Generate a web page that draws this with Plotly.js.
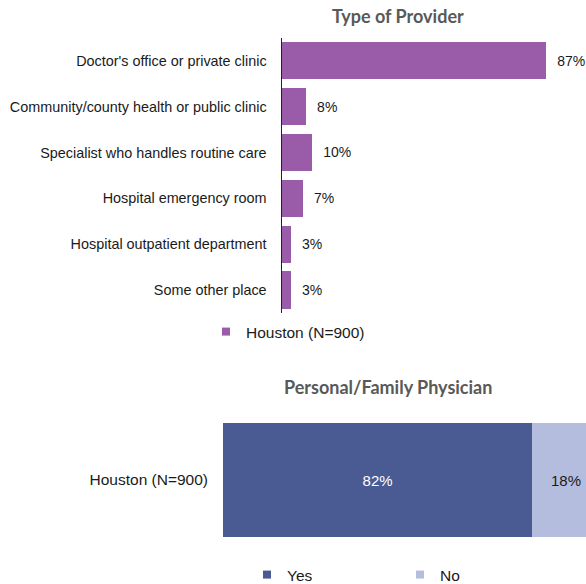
<!DOCTYPE html>
<html>
<head>
<meta charset="utf-8">
<script src="https://cdn.plot.ly/plotly-3.0.1.min.js"></script>
<style>html,body{margin:0;padding:0;background:#fff;}#chart{width:586px;height:584px;}</style>
</head>
<body>
<div id="chart"></div>
<script>
// Top chart: Type of Provider
var providerCategories = [
  "Doctor's office or private clinic",
  "Community/county health or public clinic",
  "Specialist who handles routine care",
  "Hospital emergency room",
  "Hospital outpatient department",
  "Some other place"
];
var providerValues = [87, 8, 10, 7, 3, 3];
var providerSeriesName = "Houston (N=900)";

// Bottom chart: Personal/Family Physician
var physicianCategories = ["Houston (N=900)"];
var physicianYes = [82];
var physicianNo = [18];

var colProvider = '#9A5BA8', colYes = '#4A5A92', colNo = '#B4BDDE';
var W = 586, H = 584;
function px(x) { return x / W; }
function py(y) { return 1 - y / H; }
var FONT = 'Liberation Sans, Arial, sans-serif';

var traces = [
  {
    type: 'bar', orientation: 'h',
    x: providerValues, y: providerCategories,
    name: providerSeriesName, showlegend: false,
    marker: { color: colProvider },
    texttemplate: '\u00a0\u00a0%{x}%',
    textposition: 'outside',
    cliponaxis: false,
    textfont: { family: FONT, size: 14, color: '#1a1a1a' },
    xaxis: 'x', yaxis: 'y',
    hoverinfo: 'skip'
  },
  {
    type: 'bar', orientation: 'h',
    x: physicianYes, y: physicianCategories,
    name: 'Yes', width: 1, showlegend: false,
    marker: { color: colYes },
    texttemplate: '%{x}%',
    textposition: 'inside', insidetextanchor: 'middle',
    textfont: { family: FONT, size: 15, color: '#ffffff' },
    xaxis: 'x2', yaxis: 'y2',
    hoverinfo: 'skip'
  },
  {
    type: 'bar', orientation: 'h',
    x: physicianNo, y: physicianCategories,
    name: 'No', width: 1, showlegend: false,
    marker: { color: colNo },
    texttemplate: '%{x}%',
    textposition: 'inside', insidetextanchor: 'middle',
    textfont: { family: FONT, size: 15, color: '#1a1a1a' },
    xaxis: 'x2', yaxis: 'y2',
    hoverinfo: 'skip'
  },
  // legend keys (small square swatches, no data points drawn)
  {
    type: 'scatter', mode: 'markers', x: [null], y: [null],
    name: providerSeriesName, legend: 'legend',
    marker: { symbol: 'square', size: 8, color: colProvider },
    xaxis: 'x', yaxis: 'y', hoverinfo: 'skip'
  },
  {
    type: 'scatter', mode: 'markers', x: [null], y: [null],
    name: 'Yes', legend: 'legend2',
    marker: { symbol: 'square', size: 8, color: colYes },
    xaxis: 'x2', yaxis: 'y2', hoverinfo: 'skip'
  },
  {
    type: 'scatter', mode: 'markers', x: [null], y: [null],
    name: 'No', legend: 'legend2',
    marker: { symbol: 'square', size: 8, color: colNo },
    xaxis: 'x2', yaxis: 'y2', hoverinfo: 'skip'
  }
];

var layout = {
  width: W, height: H,
  margin: { l: 0, r: 0, t: 0, b: 0, autoexpand: false },
  paper_bgcolor: '#ffffff', plot_bgcolor: '#ffffff',
  barmode: 'stack',
  bargap: 0.19,
  font: { family: FONT, color: '#1a1a1a' },
  xaxis: {
    domain: [px(282), 1], range: [0, 100],
    showgrid: false, zeroline: false, showticklabels: false, showline: false, fixedrange: true
  },
  yaxis: {
    domain: [py(313), py(37.8)],
    autorange: 'reversed',
    showgrid: false, zeroline: false,
    showline: true, linecolor: '#222222', linewidth: 1.5,
    ticks: '', ticklabelstandoff: 11,
    tickfont: { family: FONT, size: 14.4, color: '#1a1a1a' },
    fixedrange: true
  },
  xaxis2: {
    domain: [px(223), 1], range: [0, 96.3], anchor: 'y2',
    showgrid: false, zeroline: false, showticklabels: false, showline: false, fixedrange: true
  },
  yaxis2: {
    domain: [py(537), py(423)], anchor: 'x2',
    showgrid: false, zeroline: false, showline: false,
    ticks: '', ticklabelstandoff: 14,
    tickfont: { family: FONT, size: 15.5, color: '#1a1a1a' },
    fixedrange: true
  },
  showlegend: true,
  legend: {
    x: px(206), xanchor: 'left', y: py(332), yanchor: 'middle',
    orientation: 'h', bgcolor: 'rgba(0,0,0,0)', traceorder: 'normal',
    font: { family: FONT, size: 15.5, color: '#1a1a1a' }
  },
  legend2: {
    x: px(247), xanchor: 'left', y: py(575), yanchor: 'middle',
    orientation: 'h', traceorder: 'normal', entrywidth: 108, entrywidthmode: 'pixels', bgcolor: 'rgba(0,0,0,0)',
    font: { family: FONT, size: 15.5, color: '#1a1a1a' }
  },
  annotations: [
    {
      text: '<b>Type of Provider</b>', xref: 'paper', yref: 'paper',
      x: px(398), y: py(16), xanchor: 'center', yanchor: 'middle', showarrow: false,
      font: { family: 'Lato, Open Sans, sans-serif', size: 18, color: '#595959' }
    },
    {
      text: '<b>Personal/Family Physician</b>', xref: 'paper', yref: 'paper',
      x: px(388), y: py(387), xanchor: 'center', yanchor: 'middle', showarrow: false,
      font: { family: 'Lato, Open Sans, sans-serif', size: 18, color: '#595959' }
    }
  ]
};

Plotly.newPlot('chart', traces, layout, { displayModeBar: false, staticPlot: true });
</script>
</body>
</html>
